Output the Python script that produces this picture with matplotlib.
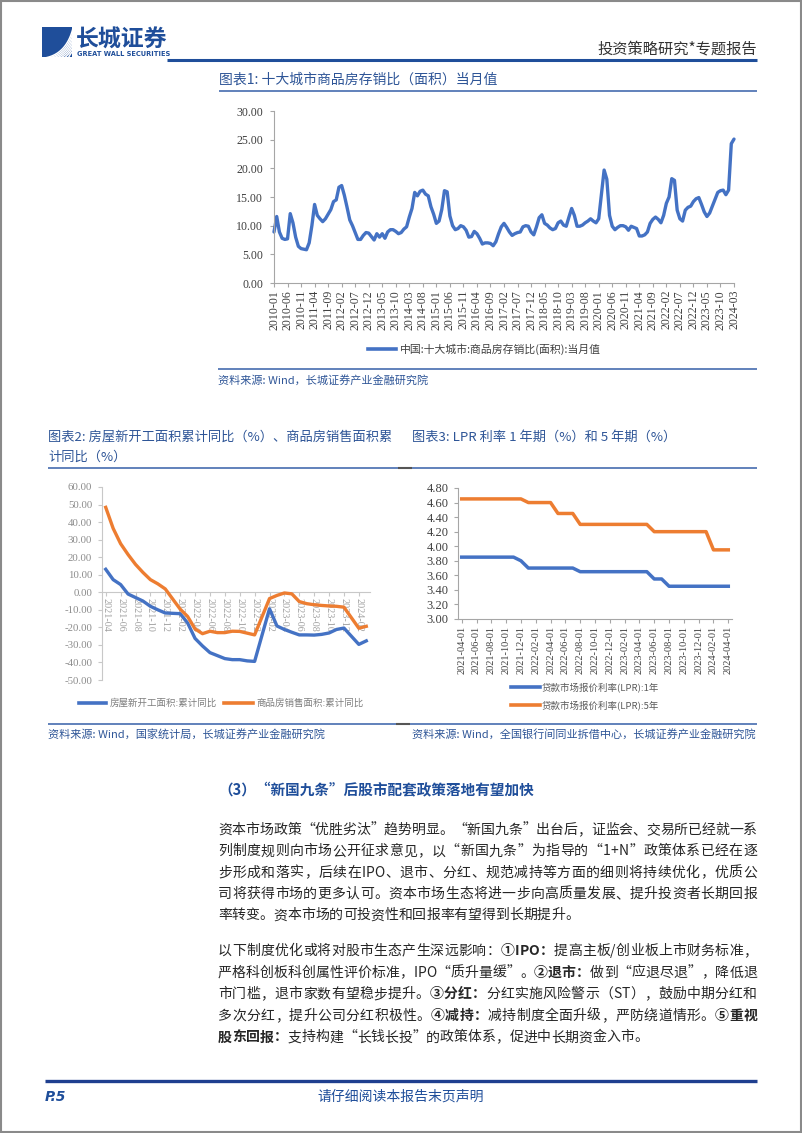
import numpy as np
import pandas as pd
import matplotlib
matplotlib.use('Agg')
import matplotlib.pyplot as plt
from matplotlib.lines import Line2D
from matplotlib.patches import Rectangle

plt.rcParams['font.family'] = ['Noto Sans CJK SC', 'DejaVu Sans']
plt.rcParams['axes.unicode_minus'] = False

# ---------------- data ----------------
c1_labels = [p.strftime('%Y-%m') for p in pd.period_range('2010-01', '2024-03', freq='M')]
c1_values = [
    8.9, 11.6, 8.9, 7.8, 7.6, 7.7, 12.1, 10.5, 8.0, 6.4, 6.0, 5.9,          # 2010
    5.8, 7.0, 10.0, 13.7, 11.8, 11.2, 10.7, 11.2, 12.0, 12.8, 14.2, 14.5,   # 2011
    16.7, 17.0, 15.3, 13.2, 11.0, 10.0, 8.8, 7.6, 7.6, 8.3, 8.8, 8.7,       # 2012
    8.1, 7.5, 8.6, 8.0, 8.6, 7.8, 8.9, 9.3, 9.3, 9.0, 8.6, 8.8,             # 2013
    9.4, 9.8, 11.5, 13.0, 15.8, 15.2, 16.0, 16.2, 15.5, 15.2, 13.3, 12.0,   # 2014
    10.4, 10.8, 12.8, 16.1, 15.9, 11.7, 10.0, 9.3, 9.5, 10.0, 9.8, 9.2,     # 2015
    8.0, 8.1, 9.0, 8.6, 7.8, 6.8, 7.0, 7.0, 6.9, 6.5, 7.2, 8.6,             # 2016
    9.8, 10.4, 9.7, 8.9, 8.3, 8.6, 8.8, 8.9, 9.8, 10.0, 9.9, 8.9,           # 2017
    8.4, 9.8, 11.4, 11.9, 10.4, 10.1, 9.6, 9.3, 9.5, 10.5, 10.8, 10.1,      # 2018
    9.9, 11.5, 13.0, 11.8, 9.9, 9.9, 10.1, 10.5, 10.8, 11.2, 10.8, 10.5,    # 2019
    11.2, 15.5, 19.7, 18.1, 11.8, 9.9, 9.3, 9.7, 10.0, 10.0, 9.8, 9.2,      # 2020
    9.9, 9.7, 9.5, 8.2, 8.2, 8.4, 8.9, 10.4, 11.1, 11.5, 11.1, 10.5,        # 2021
    11.8, 13.9, 15.0, 18.2, 17.9, 12.7, 11.2, 10.8, 12.7, 13.2, 13.4, 14.2, # 2022
    14.7, 14.9, 13.7, 12.4, 11.6, 12.2, 13.4, 14.6, 15.8, 16.1, 16.2, 15.4, # 2023
    16.2, 24.3, 25.1,                                                       # 2024
]
c1_legend = '中国:十大城市:商品房存销比(面积):当月值'

c2_labels = [p.strftime('%Y-%m') for p in pd.period_range('2021-04', '2024-03', freq='M')]
c2_starts = [13.1, 7.2, 4.4, -1.0, -3.0, -5.0, -8.0, -10.0, -11.8,
             None, -12.2, -17.5, -26.3, -30.6, -34.4, -36.1, -37.8, -38.4, -38.4, -39.1, -39.4,
             None, -9.4, -19.2, -21.2, -22.8, -24.3, -24.3, -24.4, -24.0, -23.2, -21.2, -20.4,
             None, -29.7, -27.7]
c2_sales = [48.4, 36.4, 27.7, 21.5, 15.9, 11.3, 7.2, 4.8, 1.9,
            None, -9.6, -13.8, -20.9, -23.6, -22.2, -23.0, -23.0, -22.2, -22.3, -23.3, -24.3,
            None, -3.6, -1.8, -0.4, -0.9, -5.3, -6.5, -7.1, -7.5, -7.8, -8.0, -8.5,
            None, -20.5, -19.4]
c2_names = ['房屋新开工面积:累计同比', '商品房销售面积:累计同比']

c3_labels = [p.strftime('%Y-%m') + '-01' for p in pd.period_range('2021-04', '2024-04', freq='M')]
c3_lpr1 = [3.85, 3.85, 3.85, 3.85, 3.85, 3.85, 3.85, 3.85, 3.80,
           3.70, 3.70, 3.70, 3.70, 3.70, 3.70, 3.70, 3.65, 3.65, 3.65, 3.65, 3.65,
           3.65, 3.65, 3.65, 3.65, 3.65, 3.55, 3.55, 3.45, 3.45, 3.45, 3.45, 3.45,
           3.45, 3.45, 3.45, 3.45]
c3_lpr5 = [4.65, 4.65, 4.65, 4.65, 4.65, 4.65, 4.65, 4.65, 4.65,
           4.60, 4.60, 4.60, 4.60, 4.45, 4.45, 4.45, 4.30, 4.30, 4.30, 4.30, 4.30,
           4.30, 4.30, 4.30, 4.30, 4.30, 4.20, 4.20, 4.20, 4.20, 4.20, 4.20, 4.20,
           4.20, 3.95, 3.95, 3.95]
c3_names = ['贷款市场报价利率(LPR):1年', '贷款市场报价利率(LPR):5年']

# ---------------- layout helpers ----------------
W, H = 802, 1133
fig = plt.figure(figsize=(W / 100, H / 100), dpi=100)
fig.patch.set_facecolor('white')

BLUE = '#4472C4'
ORANGE = '#ED7D31'
NAVY = '#1F4E9A'
TBLUE = '#2E5597'
BODY = '#262626'
NUMFONT = 'Liberation Serif'


def fx(x):
    return x / W


def fy(y):
    return 1 - y / H


def T(x, y, s, **kw):
    return fig.text(fx(x), fy(y), s, **kw)


def HL(x0, x1, y, color, lw):
    fig.add_artist(Line2D([fx(x0), fx(x1)], [fy(y), fy(y)], color=color, lw=lw,
                          transform=fig.transFigure, solid_capstyle='butt'))


def AX(l, t, r, b):
    return fig.add_axes([fx(l), fy(b), (r - l) / W, (b - t) / H])


# page frame
fig.add_artist(Rectangle((0.001, 0.001), 0.998, 0.998, transform=fig.transFigure,
                         fill=False, edgecolor='#8a8a8a', lw=1.5))

# ---------------- header ----------------
fig.add_artist(Rectangle((fx(42), fy(57)), 30 / W, 30 / H, transform=fig.transFigure,
                         facecolor=NAVY, lw=0))
clip = Rectangle((fx(42), fy(57)), 30 / W, 30 / H, transform=fig.transFigure)
tt = np.linspace(0, 1, 30)
for k in range(7):
    sx, sy = 47 + 3.6 * k, 57.5
    ex, ey = 72.5, 30 + 3.6 * k
    cx, cy = 66 + 0.8 * k, 53
    xs = (1 - tt) ** 2 * sx + 2 * (1 - tt) * tt * cx + tt ** 2 * ex
    ys = (1 - tt) ** 2 * sy + 2 * (1 - tt) * tt * cy + tt ** 2 * ey
    ln = Line2D(fx(xs), fy(ys), color='white', lw=1.1, transform=fig.transFigure)
    ln.set_clip_path(clip)
    fig.add_artist(ln)
T(76, 40, '长城证券', fontsize=16.5, fontweight='bold', color=NAVY, va='center', ha='left')
T(77, 54, 'GREAT WALL SECURITIES', fontsize=4.8, color=NAVY, va='center', ha='left',
  family='DejaVu Sans', fontweight='bold')
T(757, 49, '投资策略研究*专题报告', fontsize=11, color='#333333', ha='right', va='center')
HL(167, 757, 60, NAVY, 2.2)

# ---------------- chart 1 ----------------
T(219, 80, '图表1: 十大城市商品房存销比（面积）当月值', fontsize=10, color=TBLUE, va='center')
HL(219, 757, 91, '#5477B5', 1.3)

ax1 = AX(274, 111, 734, 283)
x1 = np.arange(len(c1_values))
ax1.plot(x1, c1_values, color=BLUE, lw=2.4, solid_joinstyle='round',
         solid_capstyle='round', clip_on=False)
ax1.set_xlim(0, len(c1_values) - 1)
ax1.set_ylim(0, 30)
yt1 = np.arange(0, 31, 5)
ax1.set_yticks(yt1)
ax1.set_yticklabels([f'{v:.2f}' for v in yt1])
ax1.set_xticks(x1[::5])
ax1.set_xticklabels(c1_labels[::5], rotation=90)
for s in ['top', 'right']:
    ax1.spines[s].set_visible(False)
for s in ['left', 'bottom']:
    ax1.spines[s].set_color('#a6a6a6')
    ax1.spines[s].set_linewidth(0.8)
ax1.tick_params(length=3, width=0.8, color='#a6a6a6', labelsize=8.6, labelcolor='#404040')
ax1.tick_params(axis='y', pad=5)
ax1.tick_params(axis='x', pad=2)
for lab in ax1.get_xticklabels() + ax1.get_yticklabels():
    lab.set_fontfamily(NUMFONT)
ax1.set_facecolor('none')

fig.add_artist(Line2D([fx(368), fx(396)], [fy(349), fy(349)], color=BLUE, lw=2.6,
                      transform=fig.transFigure))
T(400, 349, c1_legend, fontsize=7.8, color='#404040', va='center')
HL(218, 757, 369, '#5477B5', 1.3)
T(218, 380, '资料来源: Wind，长城证券产业金融研究院', fontsize=8, color=TBLUE, va='center')

# ---------------- chart 2 / 3 titles ----------------
T(48, 437, '图表2: 房屋新开工面积累计同比（%）、商品房销售面积累', fontsize=9.5, color=TBLUE, va='center')
T(48, 457, '计同比（%）', fontsize=9.5, color=TBLUE, va='center')
T(412, 437, '图表3: LPR 利率 1 年期（%）和 5 年期（%）', fontsize=9.5, color=TBLUE, va='center')
HL(48, 757, 468, '#5477B5', 1.3)
HL(398, 412, 468, '#555555', 1.5)

# ---------------- chart 2 ----------------
ax2 = AX(102, 487, 370, 680)
ax2.spines['bottom'].set_position(('data', 0))
x2 = np.arange(len(c2_labels))
for vals, col in [(c2_starts, BLUE), (c2_sales, ORANGE)]:
    v = np.array([np.nan if a is None else a for a in vals], dtype=float)
    m = ~np.isnan(v)
    ax2.plot(x2[m], v[m], color=col, lw=2.4, solid_joinstyle='round', zorder=3, clip_on=False)
ax2.set_xlim(-0.5, len(c2_labels) - 0.5)
ax2.set_ylim(-50, 60)
yt2 = np.arange(-50, 61, 10)
ax2.set_yticks(yt2)
ax2.set_yticklabels([f'{v:.2f}' for v in yt2])
ax2.set_xticks(x2[::2])
ax2.set_xticklabels(c2_labels[::2], rotation=270)
for s in ['top', 'right']:
    ax2.spines[s].set_visible(False)
for s in ['left', 'bottom']:
    ax2.spines[s].set_color('#c8c8c8')
    ax2.spines[s].set_linewidth(0.8)
ax2.tick_params(length=3, width=0.8, color='#c8c8c8')
ax2.tick_params(axis='y', labelsize=7.8, labelcolor='#8c8c8c', pad=4)
ax2.tick_params(axis='x', labelsize=7.3, labelcolor='#a0a0a0', pad=1)
for lab in ax2.get_xticklabels() + ax2.get_yticklabels():
    lab.set_fontfamily(NUMFONT)
ax2.set_facecolor('none')

for (x0, x1_, tx), col, name in zip([(79, 106, 110), (224, 253, 256)], [BLUE, ORANGE], c2_names):
    fig.add_artist(Line2D([fx(x0), fx(x1_)], [fy(703), fy(703)], color=col, lw=2.6,
                          transform=fig.transFigure))
    T(tx, 703, name, fontsize=6.8, color='#7f7f7f', va='center')

# ---------------- chart 3 ----------------
ax3 = AX(458, 488, 732, 619)
x3 = np.arange(len(c3_labels))
ax3.plot(x3, c3_lpr1, color=BLUE, lw=2.5, solid_joinstyle='round', clip_on=False)
ax3.plot(x3, c3_lpr5, color=ORANGE, lw=2.5, solid_joinstyle='round', clip_on=False)
ax3.set_xlim(-0.5, len(c3_labels) - 0.5)
ax3.set_ylim(3.0, 4.8)
yt3 = np.round(np.arange(3.0, 4.81, 0.2), 2)
ax3.set_yticks(yt3)
ax3.set_yticklabels([f'{v:.2f}' for v in yt3])
ax3.set_xticks(x3[::2])
ax3.set_xticklabels(c3_labels[::2], rotation=90)
for s in ['top', 'right']:
    ax3.spines[s].set_visible(False)
for s in ['left', 'bottom']:
    ax3.spines[s].set_color('#a6a6a6')
    ax3.spines[s].set_linewidth(0.8)
ax3.tick_params(length=3, width=0.8, color='#a6a6a6', labelcolor='#404040')
ax3.tick_params(axis='y', labelsize=9, pad=4)
ax3.tick_params(axis='x', labelsize=7.5, pad=2)
for lab in ax3.get_xticklabels() + ax3.get_yticklabels():
    lab.set_fontfamily(NUMFONT)
ax3.set_facecolor('none')

for yy, col, name in zip([687, 705], [BLUE, ORANGE], c3_names):
    fig.add_artist(Line2D([fx(511), fx(540)], [fy(yy), fy(yy)], color=col, lw=2.6,
                          transform=fig.transFigure))
    T(542, yy, name, fontsize=6.8, color='#595959', va='center')

HL(48, 757, 724, '#5477B5', 1.3)
HL(396, 410, 724, '#555555', 1.5)
T(48, 734, '资料来源: Wind，国家统计局，长城证券产业金融研究院', fontsize=8, color=TBLUE, va='center')
T(412, 734, '资料来源: Wind，全国银行间同业拆借中心，长城证券产业金融研究院', fontsize=8, color=TBLUE, va='center')

# ---------------- body text ----------------
renderer = fig.canvas.get_renderer()
_ext = {}


def ext(s, size, bold):
    key = (s, size, bold)
    if key not in _ext:
        t = fig.text(0, 0.5, s, fontsize=size, fontweight='bold' if bold else 'normal')
        _ext[key] = t.get_window_extent(renderer).width
        t.remove()
    return _ext[key]


def metrics(ch, size, bold):
    bar = '丨'
    iw_bar = ext(bar, size, bold)
    adv_bar = ext(bar + bar, size, bold) - iw_bar
    lsb_bar = (adv_bar - iw_bar) / 2
    a = ext(bar + ch + bar, size, bold) - ext(bar + bar, size, bold)
    if ch == ' ':
        return a, 0.0, False
    iw = ext(ch, size, bold)
    lsb = ext(bar + ch, size, bold) - adv_bar + lsb_bar - iw
    return a, lsb, True


def draw_line(segs, yc, x0=218, x1=757, size=10, justify=True, color=BODY):
    chars = [(ch, b) for s, b in segs for ch in s]
    ms = [metrics(ch, size, b) for ch, b in chars]
    nat = sum(m[0] for m in ms)
    gaps = []
    for i in range(len(chars) - 1):
        a, b = chars[i][0], chars[i + 1][0]
        gaps.append(not (a.isascii() and b.isascii() and a.isalnum() and b.isalnum()))
    ng = sum(gaps)
    g = (x1 - x0 - nat) / ng if (justify and ng) else 0.0
    x = x0
    ybase = yc + 0.36 * size * 100 / 72
    for i, ((ch, b), (a, lsb, vis)) in enumerate(zip(chars, ms)):
        if vis:
            T(x + lsb, ybase, ch, fontsize=size, fontweight='bold' if b else 'normal',
              color=color, ha='left', va='baseline')
        x += a + (g if (i < len(gaps) and gaps[i]) else 0.0)


T(218, 790, '（3）“新国九条”后股市配套政策落地有望加快', fontsize=10.5, fontweight='bold',
  color=NAVY, va='center')

p1 = [
    [("资本市场政策“优胜劣汰”趋势明显。“新国九条”出台后，证监会、交易所已经就一系", False)],
    [("列制度规则向市场公开征求意见，以“新国九条”为指导的“1+N”政策体系已经在逐", False)],
    [("步形成和落实，后续在IPO、退市、分红、规范减持等方面的细则将持续优化，优质公", False)],
    [("司将获得市场的更多认可。资本市场生态将进一步向高质量发展、提升投资者长期回报", False)],
    [("率转变。资本市场的可投资性和回报率有望得到长期提升。", False)],
]
p2 = [
    [("以下制度优化或将对股市生态产生深远影响：", False), ("①IPO：", True), ("提高主板/创业板上市财务标准，", False)],
    [("严格科创板科创属性评价标准，IPO“质升量缓”。", False), ("②退市：", True), ("做到“应退尽退”，降低退", False)],
    [("市门槛，退市家数有望稳步提升。", False), ("③分红：", True), ("分红实施风险警示（ST），鼓励中期分红和", False)],
    [("多次分红，提升公司分红积极性。", False), ("④减持：", True), ("减持制度全面升级，严防绕道情形。", False), ("⑤重视", True)],
    [("股东回报：", True), ("支持构建“长钱长投”的政策体系，促进中长期资金入市。", False)],
]
for i, segs in enumerate(p1):
    draw_line(segs, 829 + 21.3 * i, justify=(i < len(p1) - 1))
for i, segs in enumerate(p2):
    draw_line(segs, 950 + 21.6 * i, justify=(i < len(p2) - 1))

# ---------------- footer ----------------
HL(45, 757, 1081, '#1F3F8F', 2.4)
T(45, 1097, 'P.5', fontsize=10, fontweight='bold', style='italic', family='DejaVu Sans',
  color=NAVY, va='center')
T(401, 1097, '请仔细阅读本报告末页声明', fontsize=10, color=NAVY, va='center', ha='center')

fig.savefig('out.png', dpi=100, facecolor='white')
